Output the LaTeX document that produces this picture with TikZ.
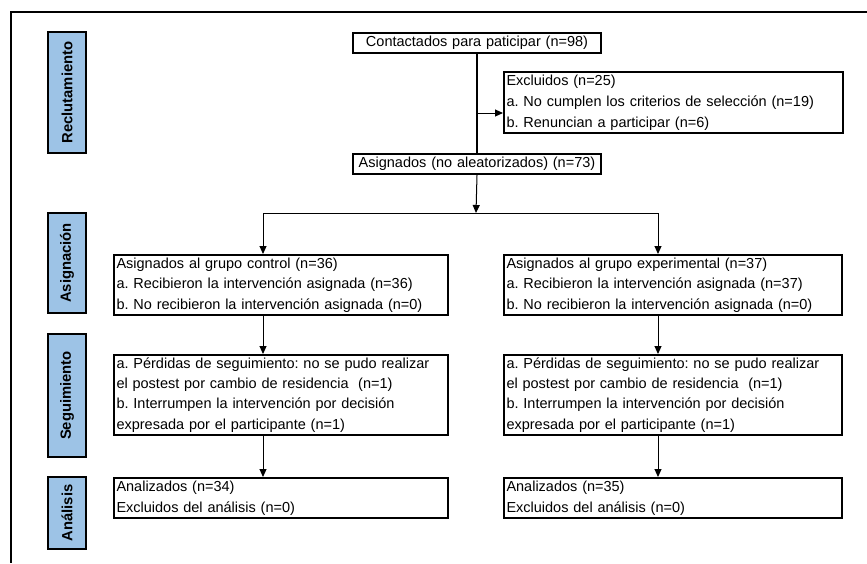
\documentclass[tikz,border=0pt]{standalone}
\usepackage{fontspec}
\setmainfont{Liberation Sans}
\usetikzlibrary{arrows.meta}
\definecolor{phasecol}{RGB}{157,195,230}
\frenchspacing
\begin{document}
\frenchspacing
\begin{tikzpicture}[x=1pt,y=-1pt,
  mybox/.style={draw,line width=2pt,anchor=north west,inner xsep=2.5pt,inner ysep=0pt,align=left,
    font=\fontsize{14.5}{20.3}\selectfont},
  phasebox/.style={draw,fill=phasecol,line width=2pt,rotate=90,minimum height=38pt,inner sep=0pt,
    font=\fontsize{14.8}{17}\selectfont\bfseries},
  arr/.style={-{Triangle[length=8pt,width=7pt]},line width=1pt},
  conn/.style={line width=1pt},
  frame/.style={line width=2pt}]
\useasboundingbox (0,0) rectangle (867,563);
% frame
\coordinate (ftl) at (11,12);
\coordinate (ftr) at (867,12);
\coordinate (fbl) at (11,563);
\draw[frame] (ftr) -- (ftl) -- (fbl);
% phase labels
\node[phasebox,minimum width=121pt] (p1) at (67,92.5) {Reclutamiento};
\node[phasebox,minimum width=100pt] (p2) at (67,263) {Asignación};
\node[phasebox,minimum width=123pt] (p3) at (67,395.5) {Seguimiento};
\node[phasebox,minimum width=72pt] (p4) at (67,513) {Análisis};
% boxes
\node[mybox,minimum width=248pt,text width=243pt,minimum height=20pt,align=center] (cont) at (352,32) {Contactados para paticipar (n=98)};
\node[mybox,minimum width=339pt,text width=334pt,minimum height=61pt,font=\fontsize{14.5}{21}\selectfont] (excl) at (503,71) {Excluidos (n=25)\\a. No cumplen los criterios de selección (n=19)\\b. Renuncian a participar (n=6)};
\node[mybox,minimum width=248pt,text width=243pt,minimum height=20pt,align=center] (asig) at (352,153) {Asignados (no aleatorizados) (n=73)};
\node[mybox,minimum width=334pt,text width=329pt,minimum height=60pt] (ctrl) at (113,254) {Asignados al grupo control (n=36)\\a. Recibieron la intervención asignada (n=36)\\b. No recibieron la intervención asignada (n=0)};
\node[mybox,minimum width=338pt,text width=333pt,minimum height=60pt] (expe) at (503,254) {Asignados al grupo experimental (n=37)\\a. Recibieron la intervención asignada (n=37)\\b. No recibieron la intervención asignada (n=0)};
\node[mybox,minimum width=334pt,text width=329pt,minimum height=80pt] (seg1) at (113,354) {a. Pérdidas de seguimiento: no se pudo realizar\\el postest por cambio de residencia\ \ (n=1)\\b. Interrumpen la intervención por decisión\\expresada por el participante (n=1)};
\node[mybox,minimum width=338pt,text width=333pt,minimum height=80pt] (seg2) at (503,354) {a. Pérdidas de seguimiento: no se pudo realizar\\el postest por cambio de residencia\ \ (n=1)\\b. Interrumpen la intervención por decisión\\expresada por el participante (n=1)};
\node[mybox,minimum width=334pt,text width=329pt,minimum height=40pt,font=\fontsize{14.5}{21.5}\selectfont] (ana1) at (113,477) {Analizados (n=34)\\Excluidos del análisis (n=0)};
\node[mybox,minimum width=338pt,text width=333pt,minimum height=40pt,font=\fontsize{14.5}{21.5}\selectfont] (ana2) at (503,477) {Analizados (n=35)\\Excluidos del análisis (n=0)};
% connectors
\coordinate (branch) at (476,113);
\coordinate (split) at (476,213);
\coordinate (cl) at (263,213);
\coordinate (cr) at (658,213);
\draw[line width=1.8pt] (cont.south) -- (asig.north);
\draw[arr] (branch) -- (branch -| excl.west);
\draw[arr] (asig.south) -- (split);
\draw[conn] (cl) -- (cr);
\draw[arr] (cl) -- (cl |- ctrl.north);
\draw[arr] (cr) -- (cr |- expe.north);
\draw[arr] (ctrl.south -| cl) -- (seg1.north -| cl);
\draw[arr] (expe.south -| cr) -- (seg2.north -| cr);
\draw[arr] (seg1.south -| cl) -- (ana1.north -| cl);
\draw[arr] (seg2.south -| cr) -- (ana2.north -| cr);
\end{tikzpicture}
\end{document}
